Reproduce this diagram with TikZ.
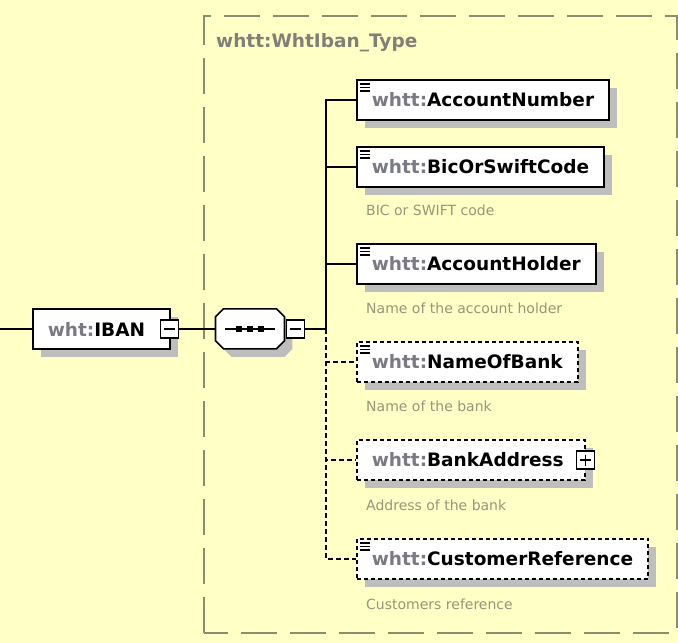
\documentclass[tikz,border=0pt]{standalone}
\usepackage{fontspec}
\setmainfont{DejaVu Sans}
\usetikzlibrary{positioning}
\usetikzlibrary{shadows}
\definecolor{paper}{RGB}{255,255,198}
\definecolor{framegray}{RGB}{140,140,112}
\definecolor{labelgray}{RGB}{128,128,118}
\definecolor{prefixgray}{RGB}{122,122,132}
\definecolor{descgray}{RGB}{150,150,124}
\definecolor{shadegray}{RGB}{190,190,190}
\newcommand{\pfx}[1]{{\color{prefixgray}#1:}}
\tikzset {
  % grey shadow under the schema boxes
  box shade/.style = {
    drop shadow={shadow xshift=8pt, shadow yshift=-8pt, fill=shadegray, opacity=1}
  },
  schema node/.style = {
    draw = black,
    line width = 1.6pt,
    fill = white,
    box shade
  },
  % mandatory element
  elem/.style = {
    schema node,
    rectangle,
    anchor = west,
    minimum height = 40pt,
    inner xsep = 15pt,
    font = \fontsize{18.5pt}{22pt}\selectfont\bfseries
  },
  % optional element
  optelem/.style = {
    elem,
    dash pattern = on 4pt off 3pt
  },
  % element with text content
  textlines/.style = {
    path picture = {
      \foreach \dy in {4,7.5,11}
        \draw[solid, line width = 1.1pt]
          ([shift={(3pt,-\dy pt)}]path picture bounding box.north west) -- ++(10pt,0pt);
    }
  },
  % sequence compositor: room for the octagon
  seq/.style = {
    rectangle,
    anchor = west,
    minimum width = 69pt,
    minimum height = 40pt,
    inner sep = 0pt
  },
  % octagon outline, started 8pt right of the north west corner
  octagon/.style = {
    insert path = {
      -- ++(53,0) -- ++(8,8) -- ++(0,24) -- ++(-8,8)
      -- ++(-53,0) -- ++(-8,-8) -- ++(0,-24) -- cycle
    }
  },
  seqdot/.style = {
    fill = black,
    rectangle,
    minimum size = 6pt,
    inner sep = 0pt
  }
}
\tikzset {
  % expand and collapse buttons
  toggle/.style = {
    draw = black,
    line width = 1.2pt,
    fill = white,
    rectangle,
    minimum size = 18pt,
    inner sep = 0pt
  },
  minus/.style = {
    toggle,
    path picture = {
      \draw[line width = 1.2pt]
        ([xshift=3.5pt]path picture bounding box.west) -- ([xshift=-3.5pt]path picture bounding box.east);
    }
  },
  plus/.style = {
    toggle,
    path picture = {
      \draw[line width = 1.2pt]
        ([xshift=3.5pt]path picture bounding box.west) -- ([xshift=-3.5pt]path picture bounding box.east);
      \draw[line width = 1.2pt]
        ([yshift=-3.5pt]path picture bounding box.north) -- ([yshift=3.5pt]path picture bounding box.south);
    }
  },
  % annotation under an element
  desc/.style = {
    anchor = west,
    text = descgray,
    inner sep = 0pt,
    font = \fontsize{14pt}{16pt}\selectfont
  },
  typelabel/.style = {
    anchor = west,
    text = labelgray,
    inner sep = 0pt,
    font = \fontsize{18.5pt}{22pt}\selectfont\bfseries
  },
  typeframe/.style = {
    draw = framegray,
    line width = 1.6pt,
    dash pattern = on 36pt off 13pt
  },
  wire/.style = {
    draw = black,
    line width = 1.6pt
  },
  optwire/.style = {
    wire,
    dash pattern = on 5pt off 3pt
  }
}

\begin{document}
\begin{tikzpicture}[x=1pt, y=-1pt]
    \useasboundingbox[fill=paper] (0,0) rectangle (678,643);
    \draw[typeframe] (204,633) -- (204,16) -- (677,16) -- (677,633) -- cycle;
    \node[typelabel] (typename) at (216,43) {whtt:WhtIban\_Type};

    \coordinate (start) at (0,329);
    \node[elem] (iban) at (32,329) {\pfx{wht}IBAN\hspace*{10pt}};
    \node[minus] (ibanx) at ([xshift=-1pt]iban.east) {};
    \node[seq] (seq) [right=36pt of ibanx] {};
    \node[minus] (seqx) [right=1pt of seq] {};
    \coordinate[right=21pt of seqx] (bus);

    % sequence octagon with its shadow
    \fill[shadegray] ([shift={(16pt,-8pt)}]seq.north west) [octagon];
    \draw[wire, fill=white] ([xshift=8pt]seq.north west) [octagon];
    \draw[wire] ([xshift=-25pt]seq.center) -- ([xshift=25pt]seq.center);
    \foreach \dx in {-11,0,11}
      \node[seqdot] at ([xshift=\dx pt]seq.center) {};
    \node[minus] at (seqx) {};

    \node[elem, textlines] (acctnum) at (356,100) {\pfx{whtt}AccountNumber};
    \node[elem, textlines] (bic) at (356,167) {\pfx{whtt}BicOrSwiftCode};
    \node[elem, textlines] (holder) at (356,264) {\pfx{whtt}AccountHolder};
    \node[optelem, textlines] (bankname) at (356,362) {\pfx{whtt}NameOfBank};
    \node[optelem] (bankaddr) at (356,460) {\pfx{whtt}BankAddress\hspace*{6pt}};
    \node[plus] (bankaddrx) at (bankaddr.east) {};
    \node[optelem, textlines] (custref) at (356,559) {\pfx{whtt}CustomerReference};

    \node[desc] (bicdesc) at (366,210) {BIC or SWIFT code};
    \node[desc] (holderdesc) at (366,308) {Name of the account holder};
    \node[desc] (banknamedesc) at (366,406) {Name of the bank};
    \node[desc] (bankaddrdesc) at (366,505) {Address of the bank};
    \node[desc] (custrefdesc) at (366,604) {Customers reference};

    \draw[wire] (start) -- (iban.west);
    \draw[wire] (ibanx.east) -- (seq.west);
    \draw[wire] (seqx.east) -- (bus);
    \draw[wire] (bus) |- (acctnum.west);
    \draw[wire] (bus) |- (bic.west);
    \draw[wire] (bus) |- (holder.west);
    \draw[optwire] (bus) |- (bankname.west);
    \draw[optwire] (bus) |- (bankaddr.west);
    \draw[optwire] (bus) |- (custref.west);
\end{tikzpicture}
\end{document}
